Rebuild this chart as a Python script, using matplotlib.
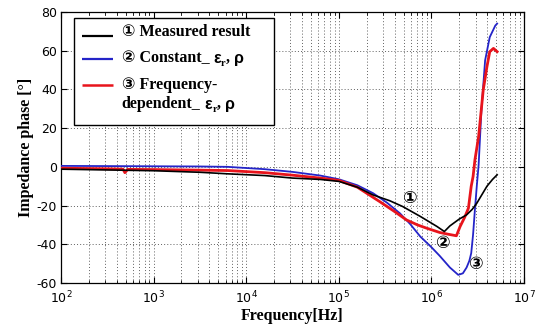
import numpy as np
import matplotlib
matplotlib.use("Agg")
import matplotlib.pyplot as plt
from matplotlib.patches import Rectangle
from matplotlib.ticker import LogLocator, NullFormatter

plt.rcParams['axes.unicode_minus'] = False

# ---- data (log10 of frequency in Hz, phase in degrees) ----
meas_logf = [2.0, 2.5, 3.0, 3.5, 3.8, 4.2, 4.5, 4.8, 5.0, 5.2, 5.37, 5.55, 5.69, 5.88,
             6.06, 6.14, 6.2, 6.3, 6.38, 6.44, 6.49, 6.55, 6.6, 6.66, 6.71]
meas_phase = [-1.2, -1.6, -2.0, -2.8, -3.6, -4.5, -5.8, -6.5, -7.5, -10.5, -14.5, -17.5, -20.5, -25.6,
              -30.8, -33.4, -30.5, -27.0, -24.8, -22.0, -18.8, -14.0, -10.0, -6.5, -4.1]

const_logf = [2.0, 2.5, 3.0, 3.5, 3.8, 4.2, 4.5, 4.8, 5.0, 5.2, 5.37, 5.52, 5.66, 5.77, 5.88,
              6.0, 6.09, 6.2, 6.29, 6.34, 6.38, 6.41, 6.43, 6.45, 6.47, 6.49, 6.51, 6.54,
              6.58, 6.63, 6.69, 6.71]
const_phase = [0.5, 0.4, 0.3, 0.2, 0.0, -1.2, -2.6, -4.5, -6.4, -9.5, -13.6, -18.5, -24.0, -29.5, -36.0,
               -41.5, -46.0, -52.0, -55.8, -55.0, -52.0, -48.5, -44.6, -35.0, -22.0, -10.0, 1.0, 29.0,
               55.0, 67.0, 73.0, 74.0]

freq_logf = [2.0, 2.5, 2.67, 2.69, 2.72, 3.0, 3.5, 3.8, 4.2, 4.5, 4.8, 5.0, 5.2, 5.44, 5.6, 5.73,
             5.85, 5.95, 6.09, 6.18, 6.27, 6.31, 6.36, 6.40, 6.43, 6.45, 6.47, 6.51, 6.56, 6.6,
             6.63, 6.67, 6.71]
freq_phase = [-0.7, -1.0, -1.2, -3.0, -1.3, -1.4, -1.7, -1.9, -3.0, -4.3, -5.8, -7.0, -10.5, -17.9, -23.0, -27.4,
              -30.0, -31.7, -33.9, -34.8, -35.6, -30.8, -26.0, -21.3, -10.0, -5.0, 3.6, 15.7, 39.8, 51.8,
              59.5, 61.2, 59.5]

x_ticks = [1e2, 1e3, 1e4, 1e5, 1e6, 1e7]
y_ticks = [-60, -40, -20, 0, 20, 40, 60, 80]

# marker labels: (log10 f, phase, text)
marks = [(5.77, -16.0, '①'), (6.13, -39.3, '②'), (6.49, -50.1, '③')]

serif = ['Liberation Serif', 'DejaVu Sans', 'Noto Sans CJK JP']
circ = ['DejaVu Sans', 'Noto Sans CJK JP']

fig = plt.figure(figsize=(5.42, 3.28), dpi=100)
ax = fig.add_axes([61/542, 45/328, 463/542, 271/328])

c_black, c_blue, c_red = 'black', '#2424c8', '#e8141c'
ax.plot(10**np.array(const_logf), const_phase, color=c_blue, lw=1.3, zorder=3)
ax.plot(10**np.array(freq_logf), freq_phase, color=c_red, lw=2.0, zorder=3)
ax.plot(10**np.array(meas_logf), meas_phase, color=c_black, lw=1.2, zorder=4)

ax.set_xscale('log')
ax.set_xlim(1e2, 1e7)
ax.set_ylim(-60, 80)
ax.set_xticks(x_ticks)
ax.xaxis.set_minor_locator(LogLocator(base=10, subs=np.arange(2, 10)))
ax.xaxis.set_minor_formatter(NullFormatter())
ax.set_yticks(y_ticks)

gstyle = dict(ls=(0, (1, 2.2)), color='#606060', lw=0.7)
ax.grid(True, which='major', axis='both', **gstyle)
ax.grid(True, which='minor', axis='x', **gstyle)
ax.set_axisbelow(True)

ax.tick_params(which='both', direction='in', top=True, right=True, labelsize=9,
               colors='black')
ax.tick_params(which='major', length=4, width=0.8)
ax.tick_params(which='minor', length=2, width=0.6)
ax.tick_params(axis='x', pad=5)
ax.tick_params(axis='y', pad=3)
for s in ax.spines.values():
    s.set_linewidth(0.9)

ax.set_xlabel('Frequency[Hz]', family=serif, weight='bold', fontsize=11.5, labelpad=1)
ax.set_ylabel('Impedance phase [°]', family=serif, weight='bold', fontsize=11.5, labelpad=2)

for lf, ph, s in marks:
    ax.text(10**lf, ph, s, family=circ, fontsize=12.5, weight='bold',
            ha='center', va='center', zorder=6)

# ---- legend drawn manually ----
def fx(px):
    return (px - 61) / 463
def fy(py):
    return (283 - py) / 271

ax.add_patch(Rectangle((fx(74), fy(125)), fx(274) - fx(74), fy(17.7) - fy(125),
                       transform=ax.transAxes, facecolor='white', edgecolor='black',
                       lw=1.0, zorder=10))
for ypx, col, lw in [(35.7, c_black, 1.6), (59.3, c_blue, 1.6), (85, c_red, 1.8)]:
    ax.plot([fx(81.7), fx(113.3)], [fy(ypx), fy(ypx)], color=col, lw=lw,
            transform=ax.transAxes, zorder=11, solid_capstyle='butt')

fs = 11.5
sf = dict(family=serif, weight='bold', fontsize=fs, color='black')
gf = dict(family=['Liberation Sans', 'DejaVu Sans'], weight='bold', fontsize=fs, color='black')
sub = dict(family=serif, weight='bold', fontsize=7.5, color='black')

def rich(x, y, pieces):
    s0, p0, _, _ = pieces[0]
    prev = ax.text(x, y, s0, transform=ax.transAxes, ha='left', va='center', zorder=12, **p0)
    for s, p, dx, dy in pieces[1:]:
        prev = ax.annotate(s, xy=(1, 0), xycoords=prev, xytext=(dx, dy),
                           textcoords='offset points', ha='left', va='bottom', zorder=12, **p)
    return prev

tx = fx(121.7)
rich(tx, fy(31.7), [('① Measured result', sf, 0, 0)])
eps_tail = lambda first: [(first, sf, 0, 0), ('ε', gf, 3, 0), ('r', sub, 0, -1.5),
                          (',', sf, 0, 1.5), ('ρ', gf, 3, 0)]
rich(tx, fy(58.3), eps_tail('② Constant_'))
rich(tx, fy(85), [('③ Frequency-', sf, 0, 0)])
rich(tx, fy(104.3), eps_tail('dependent_'))

fig.savefig('out.png', dpi=100)
